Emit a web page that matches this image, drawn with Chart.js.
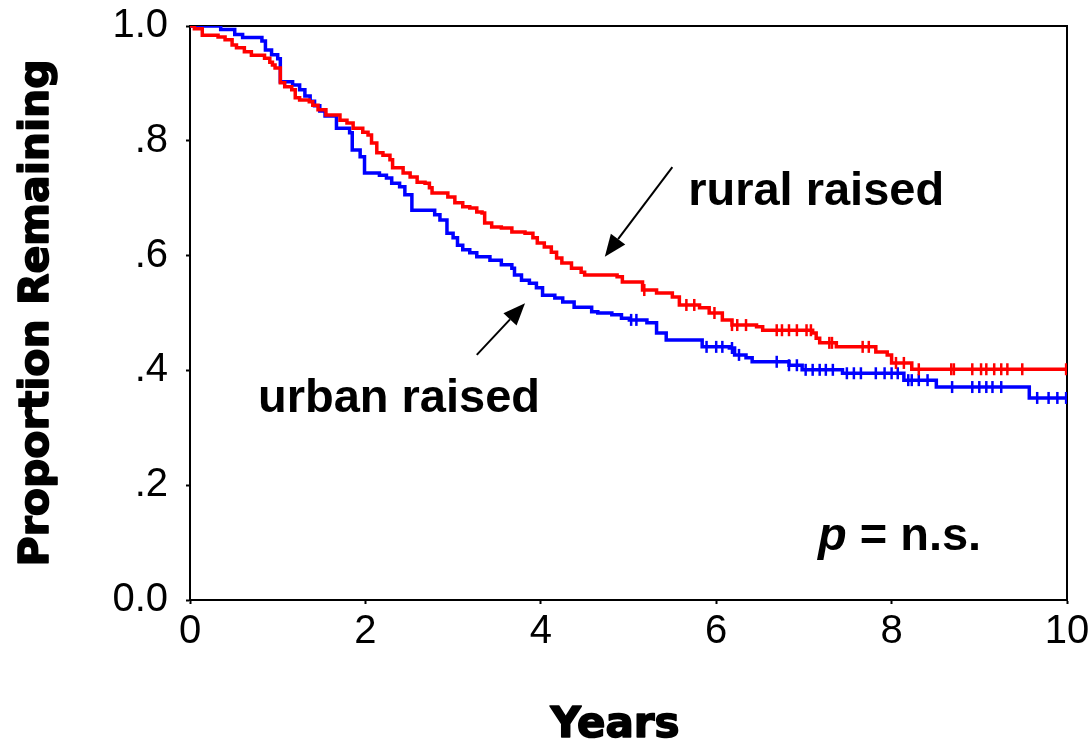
<!DOCTYPE html>
<html><head><meta charset="utf-8">
<script src="https://cdn.jsdelivr.net/npm/chart.js@4.4.0/dist/chart.umd.min.js"></script>
<style>html,body{margin:0;padding:0;background:#fff;}</style>
</head><body>
<canvas id="c" width="1088" height="745"></canvas>
<script>
// ---- data (years, proportion remaining) ----
const ruralTimes = [0,0.05,0.14,0.32,0.40,0.48,0.53,0.62,0.70,0.85,0.91,0.94,0.97,1.03,1.08,1.16,1.20,1.25,1.36,1.40,1.46,1.55,1.71,1.79,1.86,1.97,2.03,2.07,2.13,2.20,2.28,2.31,2.43,2.51,2.59,2.68,2.73,2.76,2.94,3.02,3.11,3.19,3.27,3.33,3.36,3.44,3.55,3.67,3.82,3.91,3.96,4.04,4.12,4.18,4.24,4.35,4.46,4.50,4.87,4.93,5.16,5.32,5.50,5.58,5.81,5.92,6.07,6.18,6.46,6.53,7.10,7.14,7.18,7.37,7.82,7.95,8.00,8.23,10];
const ruralValues = [1.0,.995,.984,.981,.976,.967,.962,.955,.949,.944,.937,.932,.927,.901,.894,.889,.875,.871,.868,.862,.854,.845,.836,.831,.822,.815,.810,.796,.779,.775,.767,.753,.744,.737,.728,.726,.718,.709,.702,.692,.685,.683,.676,.674,.657,.650,.648,.641,.639,.631,.622,.615,.606,.596,.587,.578,.571,.566,.563,.554,.540,.535,.528,.514,.509,.500,.488,.479,.476,.470,.465,.456,.448,.441,.432,.427,.413,.402,.402];
const urbanTimes = [0,0.35,0.51,0.60,0.82,0.86,0.93,1.00,1.03,1.17,1.25,1.31,1.37,1.42,1.48,1.54,1.67,1.82,1.85,1.94,1.99,2.16,2.24,2.30,2.39,2.45,2.53,2.79,2.85,2.93,3.00,3.05,3.11,3.19,3.27,3.42,3.55,3.67,3.70,3.78,3.87,3.95,4.02,4.16,4.25,4.38,4.58,4.65,4.81,4.92,5.01,5.21,5.32,5.43,5.84,6.15,6.21,6.34,6.41,6.83,6.98,7.44,8.14,8.51,9.57,10];
const urbanValues = [1.0,.994,.985,.980,.974,.958,.950,.943,.903,.897,.889,.878,.869,.861,.852,.843,.822,.814,.784,.772,.744,.740,.735,.726,.720,.706,.679,.671,.662,.639,.631,.618,.610,.605,.598,.592,.584,.578,.566,.557,.552,.544,.531,.526,.519,.510,.502,.500,.497,.491,.488,.483,.465,.453,.441,.439,.427,.422,.415,.409,.401,.395,.383,.371,.352,.352];
const ruralCensored = [5.18,5.66,5.75,5.98,6.18,6.24,6.34,6.69,6.75,6.83,6.92,7.03,7.08,7.29,7.32,7.67,7.74,8.05,8.14,8.31,8.68,8.71,8.92,9.02,9.08,9.17,9.25,9.32,9.49,9.99];
const urbanCensored = [5.03,5.09,5.89,6.00,6.07,6.18,6.26,6.69,6.83,6.92,7.02,7.10,7.18,7.25,7.33,7.49,7.57,7.65,7.82,7.92,8.00,8.07,8.19,8.23,8.31,8.41,8.69,8.92,9.00,9.08,9.15,9.25,9.66,9.79,9.89,9.99];
const seriesNames = ['rural raised','urban raised'];
const yTickLabels = ['0.0','.2','.4','.6','.8','1.0'];
const xTickStep = 2;
const xTitle = 'Years';
const yTitle = 'Proportion Remaining';

function survAt(times, values, t){
  let v = values[0];
  for (let i = 0; i < times.length; i++) if (times[i] <= t) v = values[i];
  return v;
}
const pts = (ts, vs) => ts.map((t,i)=>({x:t, y:vs[i]}));
const cens = (cs, ts, vs) => cs.map(t=>({x:t, y:survAt(ts, vs, t)}));

const RED = '#ff0000', BLUE = '#0000ff';
const FONT = "'Liberation Sans', Arial, sans-serif";
const TFONT = "'DejaVu Sans', sans-serif";

// annotation placement in data units
const notes = {
  rural: {text: seriesNames[0], x: 5.68, y: 0.688, arrowFrom:[5.50,0.754], arrowTo:[4.73,0.598]},
  urban: {text: seriesNames[1], x: 0.775, y: 0.327, arrowFrom:[3.27,0.427], arrowTo:[3.82,0.517]},
  pval: {x: 7.16, y: 0.087}
};

function arrow(ctx, x1, y1, x2, y2){
  const ang = Math.atan2(y2-y1, x2-x1), L = 22, W = 9;
  const bx = x2 - L*Math.cos(ang), by = y2 - L*Math.sin(ang);
  ctx.beginPath(); ctx.moveTo(x1,y1); ctx.lineTo(bx,by);
  ctx.lineWidth = 2; ctx.strokeStyle = '#000'; ctx.stroke();
  ctx.beginPath(); ctx.moveTo(x2,y2);
  ctx.lineTo(bx + W*Math.sin(ang), by - W*Math.cos(ang));
  ctx.lineTo(bx - W*Math.sin(ang), by + W*Math.cos(ang));
  ctx.closePath(); ctx.fillStyle = '#000'; ctx.fill();
}
function heavyText(ctx, text, x, y){
  ctx.fillText(text, x, y);
  ctx.lineWidth = 1.6; ctx.strokeStyle = '#000'; ctx.lineJoin = 'round';
  ctx.strokeText(text, x, y);
}

const framePlugin = {
  id: 'frame',
  beforeDatasetsDraw(chart){
    const {ctx, chartArea:a} = chart;
    ctx.save(); ctx.strokeStyle = '#000'; ctx.lineWidth = 2;
    ctx.beginPath(); ctx.moveTo(a.left, a.top); ctx.lineTo(a.right, a.top); ctx.lineTo(a.right, a.bottom); ctx.stroke();
    ctx.restore();
  },
  afterDraw(chart){
    const {ctx, chartArea:a} = chart, xs = chart.scales.x, ys = chart.scales.y;
    const X = v => xs.getPixelForValue(v), Y = v => ys.getPixelForValue(v);
    ctx.save();
    ctx.fillStyle = '#000'; ctx.textBaseline = 'alphabetic'; ctx.textAlign = 'left';
    ctx.font = 'bold 47px ' + FONT;
    ctx.fillText(notes.rural.text, X(notes.rural.x), Y(notes.rural.y));
    ctx.fillText(notes.urban.text, X(notes.urban.x), Y(notes.urban.y));
    arrow(ctx, X(notes.rural.arrowFrom[0]), Y(notes.rural.arrowFrom[1]), X(notes.rural.arrowTo[0]), Y(notes.rural.arrowTo[1]));
    arrow(ctx, X(notes.urban.arrowFrom[0]), Y(notes.urban.arrowFrom[1]), X(notes.urban.arrowTo[0]), Y(notes.urban.arrowTo[1]));
    const px = X(notes.pval.x), py = Y(notes.pval.y);
    ctx.font = 'italic bold 47px ' + FONT;
    ctx.fillText('p', px, py);
    const w = ctx.measureText('p').width;
    ctx.font = 'bold 47px ' + FONT;
    ctx.fillText(' = n.s.', px + w, py);
    // axis titles (heavy)
    ctx.fillStyle = '#000';
    ctx.font = 'bold 41px ' + TFONT;
    ctx.textAlign = 'center';
    ctx.save();
    ctx.translate(48, (a.top + a.bottom) / 2);
    ctx.rotate(-Math.PI / 2);
    heavyText(ctx, yTitle, 0, 0);
    ctx.restore();
    ctx.font = 'bold 42px ' + TFONT;
    heavyText(ctx, xTitle, 615, 737);
    ctx.restore();
  }
};

new Chart(document.getElementById('c'), {
  type: 'line',
  data: {
    datasets: [
      {label: seriesNames[0], data: pts(ruralTimes, ruralValues), borderColor: RED, borderWidth: 3.5, stepped: true, pointRadius: 0, fill: false},
      {label: seriesNames[1], data: pts(urbanTimes, urbanValues), borderColor: BLUE, borderWidth: 3.5, stepped: true, pointRadius: 0, fill: false},
      {label: seriesNames[0] + ' censored', data: cens(ruralCensored, ruralTimes, ruralValues), showLine: false, pointStyle: 'line', rotation: 90, pointRadius: 6, pointBorderWidth: 2.5, borderColor: RED, backgroundColor: RED},
      {label: seriesNames[1] + ' censored', data: cens(urbanCensored, urbanTimes, urbanValues), showLine: false, pointStyle: 'line', rotation: 90, pointRadius: 6, pointBorderWidth: 2.5, borderColor: BLUE, backgroundColor: BLUE}
    ]
  },
  options: {
    responsive: false, animation: false, devicePixelRatio: 1,
    layout: {padding: {top: 26, right: 21, left: 0, bottom: 0}},
    plugins: {legend: {display: false}, tooltip: {enabled: false}},
    scales: {
      x: {
        type: 'linear', min: 0, max: 10,
        ticks: {stepSize: xTickStep, color: '#000', font: {family: FONT, size: 40}, padding: 4, maxRotation: 0},
        grid: {display: true, drawOnChartArea: false, drawTicks: true, tickLength: 4, color: '#000', tickWidth: 2},
        border: {display: true, color: '#000', width: 2},
        afterFit: s => { s.height = 145; s.paddingLeft = 0; s.paddingRight = 0; }
      },
      y: {
        type: 'linear', min: 0, max: 1,
        ticks: {stepSize: 0.2, color: '#000', font: {family: FONT, size: 40}, padding: 18,
          callback: (v, i) => yTickLabels[i]},
        grid: {display: true, drawOnChartArea: false, drawTicks: true, tickLength: 4, color: '#000', tickWidth: 2},
        border: {display: true, color: '#000', width: 2},
        afterFit: s => { s.width = 190; s.paddingTop = 0; s.paddingBottom = 0; }
      }
    }
  },
  plugins: [framePlugin]
});
</script>
</body></html>
